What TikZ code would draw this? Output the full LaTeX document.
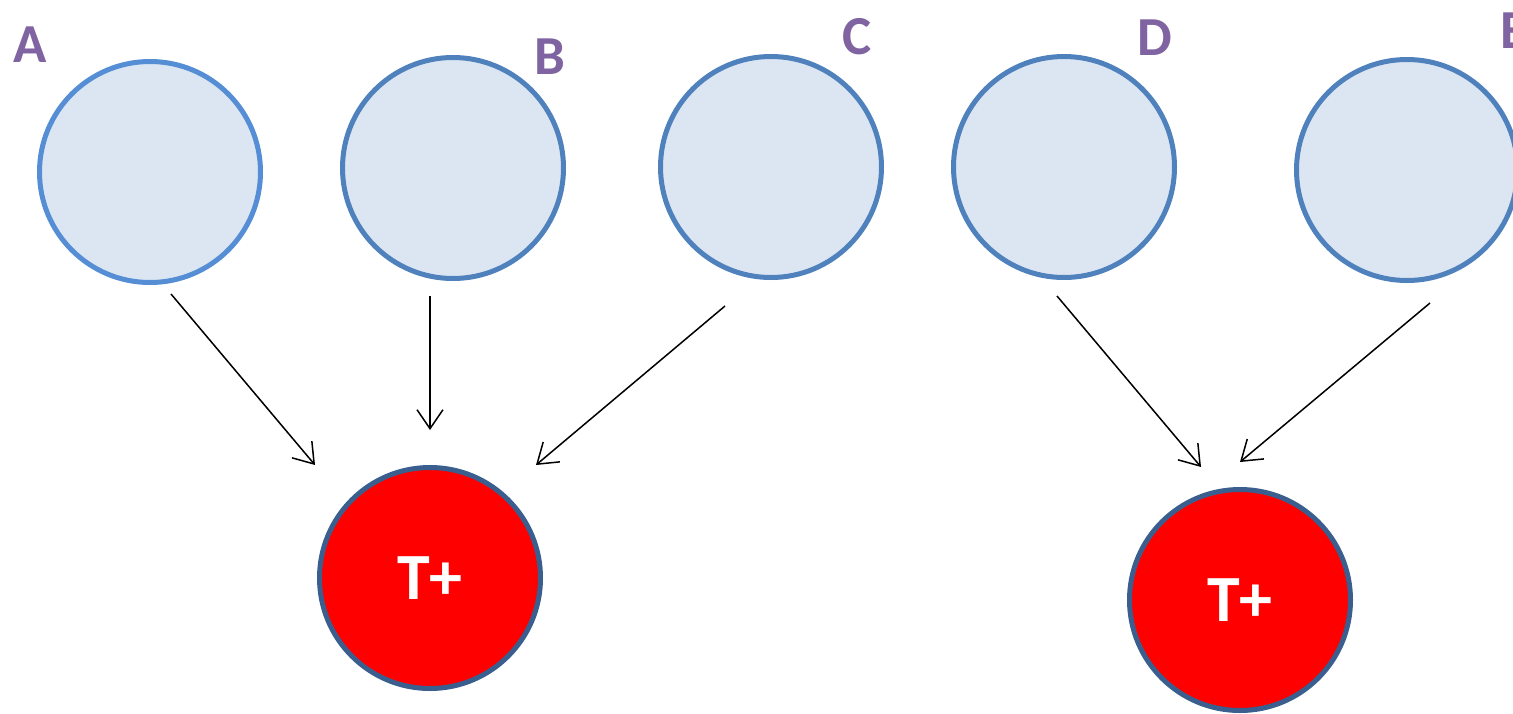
\documentclass[tikz,border=0pt]{standalone}
\usepackage{fontspec}
\setmainfont{Carlito}
\usetikzlibrary{arrows.meta}
\definecolor{lblue}{HTML}{DCE6F2}
\definecolor{edgeA}{HTML}{558ED5}
\definecolor{edgeB}{HTML}{4F81BD}
\definecolor{edgeR}{HTML}{3A5F8E}
\definecolor{lab}{HTML}{8064A2}
\begin{document}
\begin{tikzpicture}[x=1pt,y=-1pt,
  src/.style={circle,draw=edgeB,fill=lblue,line width=5pt,minimum size=221pt,inner sep=0pt,outer sep=0pt},
  tgt/.style={circle,draw=edgeR,fill=red,line width=5pt,minimum size=221pt,inner sep=0pt,outer sep=0pt,
     text=white,font=\bfseries\fontsize{66}{66}\selectfont},
  letter/.style={text=lab,font=\bfseries\fontsize{55}{55}\selectfont,inner sep=0pt},
  conn/.style={line width=1.5pt,-{Straight Barb[length=19pt,width=26pt,line width=1.5pt]}}]
\useasboundingbox (0,0) rectangle (1513,713);
\clip (0,0) rectangle (1513,713);
\node[src,draw=edgeA] (A) at (150,172) {};
\node[src] (B) at (453,168) {};
\node[src] (C) at (771,167) {};
\node[src] (D) at (1064,167) {};
\node[src] (E) at (1407,170) {};
\node[tgt] (T1) at (430,578) {T+};
\node[tgt] (T2) at (1240,600) {T+};
\node[letter] (lA) at (30,45) {A};
\node[letter] (lB) at (550,57) {B};
\node[letter] (lC) at (857,37) {C};
\node[letter] (lD) at (1155,38) {D};
\node[letter] (lE) at (1514,31) {E};
\coordinate (a1) at (171,294); \coordinate (a2) at (315,465);
\coordinate (b1) at (430,296); \coordinate (b2) at (430,430);
\coordinate (c1) at (725,306); \coordinate (c2) at (536,465);
\coordinate (d1) at (1057,296); \coordinate (d2) at (1201,467);
\coordinate (e1) at (1430,303); \coordinate (e2) at (1240,462);
\draw[conn] (a1) -- (a2);
\draw[conn] (b1) -- (b2);
\draw[conn] (c1) -- (c2);
\draw[conn] (d1) -- (d2);
\draw[conn] (e1) -- (e2);
\end{tikzpicture}
\end{document}
